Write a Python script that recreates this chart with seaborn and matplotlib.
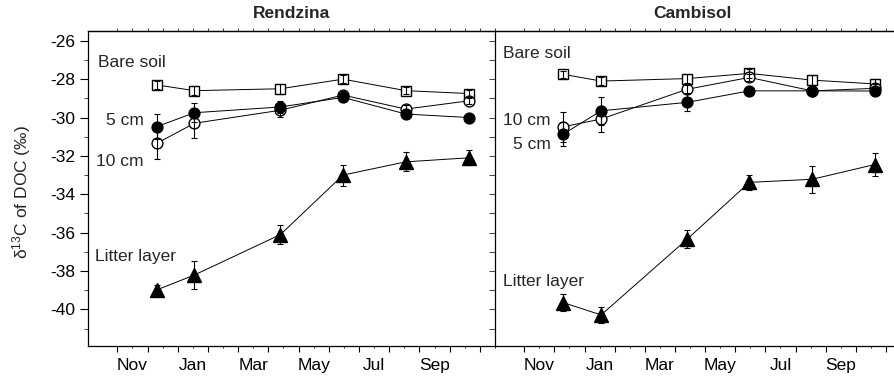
import numpy as np
import pandas as pd
import matplotlib
matplotlib.use("Agg")
import matplotlib.pyplot as plt
import seaborn as sns

# sampling dates, in months counted from 1 November
sample_month = [1.30, 2.55, 5.40, 7.47, 9.55, 11.63]

# Rendzina
rend_bare = [-28.3, -28.6, -28.5, -28.0, -28.6, -28.75]
rend_bare_err = [0.2, 0.25, 0.25, 0.2, 0.2, 0.2]
rend_5cm = [-30.48, -29.75, -29.45, -28.95, -29.82, -30.0]
rend_5cm_err = [0.65, 0.5, 0.3, 0.25, 0.2, 0.15]
rend_10cm = [-31.35, -30.3, -29.62, -28.83, -29.56, -29.13]
rend_10cm_err = [0.8, 0.75, 0.35, 0.2, 0.2, 0.15]
rend_litter = [-38.99, -38.21, -36.1, -33.0, -32.31, -32.1]
rend_litter_err = [0.25, 0.75, 0.5, 0.55, 0.5, 0.4]

# Cambisol
camb_bare = [-27.75, -28.1, -27.97, -27.7, -28.05, -28.25]
camb_bare_err = [0.2, 0.2, 0.25, 0.25, 0.25, 0.25]
camb_5cm = [-30.86, -29.65, -29.21, -28.61, -28.61, -28.62]
camb_5cm_err = [0.62, 0.72, 0.45, 0.15, 0.15, 0.15]
camb_10cm = [-30.48, -30.08, -28.53, -27.91, -28.61, -28.48]
camb_10cm_err = [0.78, 0.66, 0.2, 0.2, 0.2, 0.25]
camb_litter = [-39.65, -40.29, -36.35, -33.38, -33.22, -32.45]
camb_litter_err = [0.45, 0.4, 0.47, 0.4, 0.7, 0.6]

month_labels = ["Nov", "", "Jan", "", "Mar", "", "May", "", "Jul", "", "Sep", "", ""]
panel_titles = ["Rendzina", "Cambisol"]

sns.set_theme(style="ticks")
plt.rcParams["font.family"] = ["Liberation Sans", "DejaVu Sans"]
plt.rcParams["mathtext.default"] = "regular"
FS = 12.5

series_style = {
    "bare": dict(marker="s", mfc="white", ms=7.5),
    "5cm": dict(marker="o", mfc="black", ms=7.8),
    "10cm": dict(marker="o", mfc="white", ms=7.8),
    "litter": dict(marker="^", mfc="black", ms=10),
}

panels = [
    dict(bare=(rend_bare, rend_bare_err), **{"5cm": (rend_5cm, rend_5cm_err)},
         **{"10cm": (rend_10cm, rend_10cm_err)}, litter=(rend_litter, rend_litter_err)),
    dict(bare=(camb_bare, camb_bare_err), **{"5cm": (camb_5cm, camb_5cm_err)},
         **{"10cm": (camb_10cm, camb_10cm_err)}, litter=(camb_litter, camb_litter_err)),
]

fig = plt.figure(figsize=(8.94, 3.81), dpi=100)
W, H = 894, 381
axL = fig.add_axes([88 / W, 35 / H, 407 / W, 315 / H])
axR = fig.add_axes([495 / W, 35 / H, 406 / W, 315 / H])
axes = [axL, axR]

for ax, pdata in zip(axes, panels):
    for key in ["bare", "10cm", "5cm", "litter"]:
        yv, ye = pdata[key]
        st = series_style[key]
        df = pd.DataFrame({"month": sample_month, "d13C": yv})
        sns.lineplot(data=df, x="month", y="d13C", ax=ax, color="black",
                     linewidth=0.7, marker=st["marker"], markersize=st["ms"],
                     markerfacecolor=st["mfc"], markeredgecolor="black",
                     markeredgewidth=1.0, zorder=3, sort=False)
        ax.errorbar(sample_month, yv, yerr=ye, fmt="none", ecolor="black",
                    elinewidth=0.8, capsize=2, capthick=0.8, zorder=4)
    ax.set_xlim(-0.97, 12.3)
    ax.set_ylim(-41.91, -25.49)
    ax.set_xlabel("")
    ax.set_ylabel("")
    ax.set_xticks(np.arange(0, 13, 1))
    ax.set_xticklabels([])
    ax.set_xticks(np.arange(0.5, 13, 1), minor=True)
    ax.set_xticklabels(month_labels, minor=True, fontsize=FS)
    ax.tick_params(axis="x", which="major", length=4.5, width=0.8, direction="out", colors="black")
    ax.tick_params(axis="x", which="minor", length=1.5, width=0.6, direction="out",
                   pad=7, labelsize=FS, colors="black")
    ax.set_yticks(np.arange(-40, -25, 2))
    ax.set_yticks(np.arange(-41, -25, 1), minor=True)
    for sp in ax.spines.values():
        sp.set_linewidth(0.9)
        sp.set_color("black")
    ax.spines["right"].set_visible(False)
    sec = ax.secondary_xaxis("top")
    sec.set_xticks(np.arange(0, 13, 0.5))
    sec.set_xticklabels([])
    sec.tick_params(length=2, width=0.6, direction="out")
    sec.spines["top"].set_linewidth(0.9)

axL.set_yticklabels(["%d" % v for v in np.arange(-40, -25, 2)], fontsize=FS)
axL.tick_params(axis="y", which="major", length=6, width=0.8, colors="black")
axL.tick_params(axis="y", which="minor", length=3, width=0.6)
axR.set_yticklabels([])
axR.tick_params(axis="y", which="both", length=4, width=0.6)

# series annotations
axL.text(-0.64, -27.15, "Bare soil", ha="left", va="center", fontsize=FS)
axL.text(0.89, -30.17, "5 cm", ha="right", va="center", fontsize=FS)
axL.text(0.86, -32.3, "10 cm", ha="right", va="center", fontsize=FS)
axL.text(-0.74, -37.22, "Litter layer", ha="left", va="center", fontsize=FS)
axR.text(-0.72, -26.66, "Bare soil", ha="left", va="center", fontsize=FS)
axR.text(0.88, -30.13, "10 cm", ha="right", va="center", fontsize=FS)
axR.text(0.88, -31.43, "5 cm", ha="right", va="center", fontsize=FS)
axR.text(-0.69, -38.56, "Litter layer", ha="left", va="center", fontsize=FS)

fig.text(291 / W, 1 - 14 / H, panel_titles[0], ha="center", va="center",
         fontsize=FS, fontweight="bold")
fig.text(692 / W, 1 - 14 / H, panel_titles[1], ha="center", va="center",
         fontsize=FS, fontweight="bold")
fig.text(22 / W, 1 - 192 / H, "δ$^{13}$C of DOC (‰)", rotation=90,
         ha="center", va="center", fontsize=FS)

fig.savefig("out.png", dpi=100)
